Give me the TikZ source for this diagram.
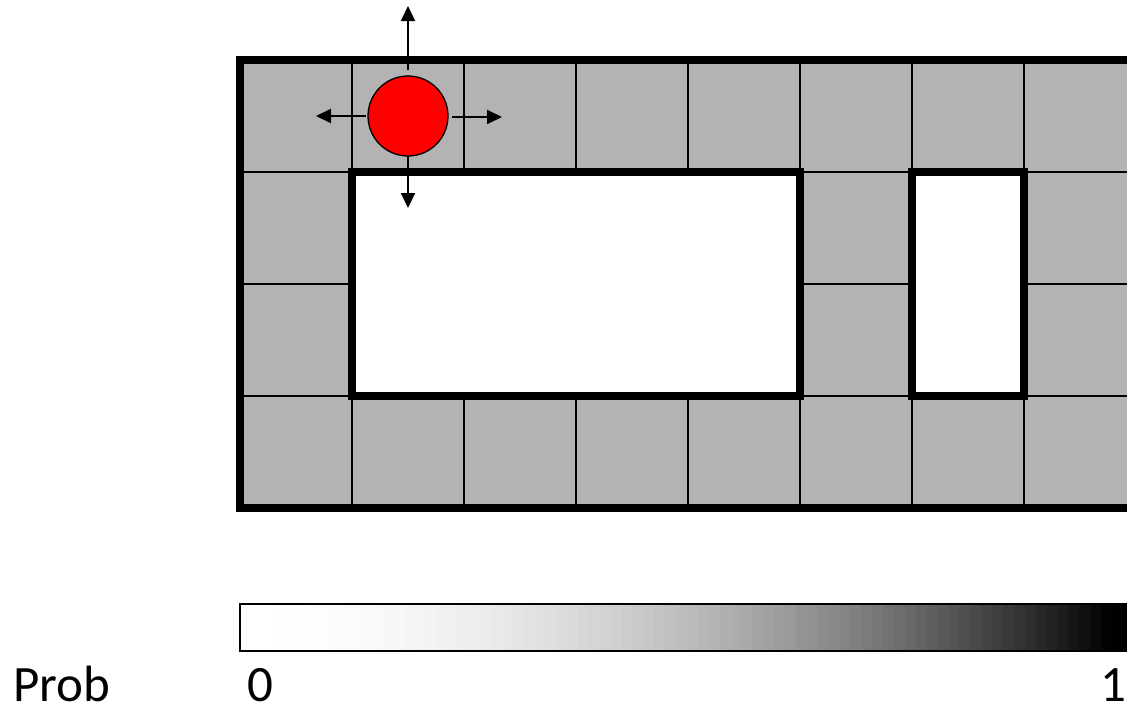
\documentclass[tikz,border=0pt]{standalone}
\usepackage{fontspec}
\setmainfont{Carlito}
\usetikzlibrary{arrows.meta}
\definecolor{cellgray}{RGB}{179,179,179}
\begin{document}
\begin{tikzpicture}[x=1pt,y=-1pt,
  gridline/.style={line width=1.8pt},
  wall/.style={line width=7.5pt, line join=miter},
  mv/.style={line width=2pt, -{Triangle[length=15pt,width=14pt]}},
  lbl/.style={inner sep=0pt, text depth=0pt, font=\fontsize{51}{60}\selectfont},
  agentstyle/.style={circle, draw=black, fill=red, minimum size=80pt, inner sep=0pt, line width=1.3pt}]
\useasboundingbox (0,0) rectangle (1127,707);
\clip (0,0) rectangle (1127,707);
% grid background
\fill[cellgray] (240,60) rectangle (1136,508);
\foreach \x in {352,464,...,1024} \draw[gridline] (\x,60) -- (\x,508);
\foreach \y in {172,284,396} \draw[gridline] (240,\y) -- (1136,\y);
% rooms (walls)
\draw[wall, fill=white] (352,172) rectangle (800,396);
\draw[wall, fill=white] (912,172) rectangle (1024,396);
\draw[wall] (240,60) rectangle (1136,508);
% agent
\node[agentstyle] (agent) at (408,116) {};
\coordinate (upS) at (408,70);
\coordinate (upE) at (408,6);
\coordinate (dnS) at (408,156);
\coordinate (dnE) at (408,208);
\coordinate (lfS) at (366,116);
\coordinate (lfE) at (316,116);
\coordinate (rtS) at (452,117);
\coordinate (rtE) at (502,117);
\draw[mv] (upS) -- (upE);
\draw[mv] (dnS) -- (dnE);
\draw[mv] (lfS) -- (lfE);
\draw[mv] (rtS) -- (rtE);
% colour bar
\foreach \i in {0,...,79} {
  \pgfmathsetmacro{\xa}{240+\i*10.9}
  \pgfmathsetmacro{\xb}{240+(\i+1)*10.9+0.4}
  \pgfmathsetmacro{\pct}{100*((\i+0.5)/80)^2}
  \fill[black!\pct] (\xa,604) rectangle (\xb,651);
}
\fill[black] (1112,604) rectangle (1140,651);
\draw[line width=1.6pt] (240,604) rectangle (1140,651);
\node[lbl, anchor=base west] (prob) at (13,701) {Prob};
\node[lbl, anchor=base west] (zero) at (247,701) {0};
\node[lbl, anchor=base east] (one) at (1127,701) {1};
\end{tikzpicture}
\end{document}
